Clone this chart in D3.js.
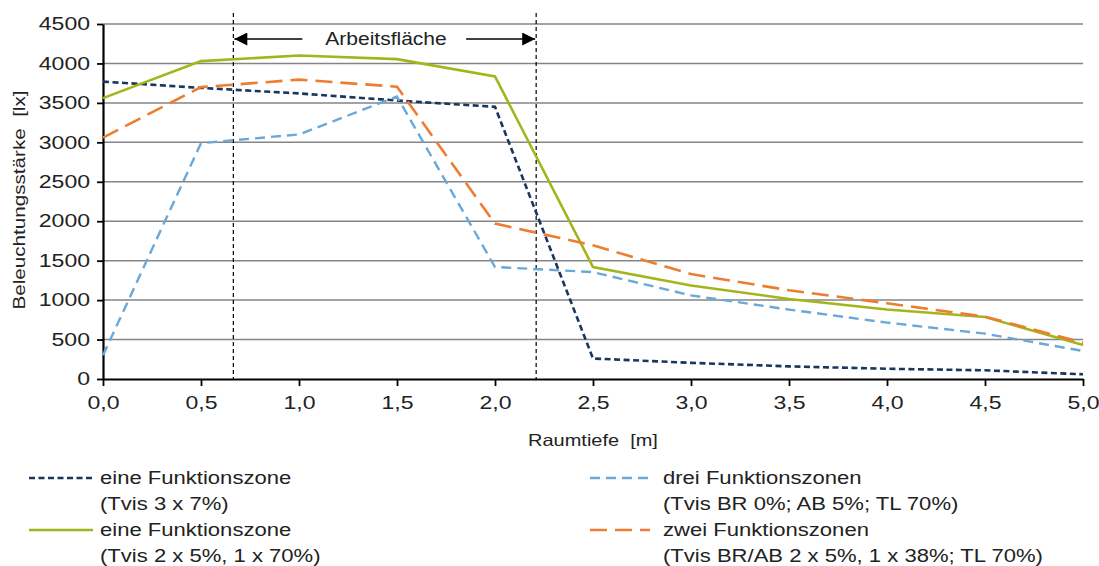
<!DOCTYPE html>
<html><head><meta charset="utf-8">
<script src="https://cdn.jsdelivr.net/npm/d3@7"></script>
<style>body{margin:0;background:#fff;}svg{display:block;font-family:"Liberation Sans",Arial,sans-serif;}</style>
</head><body><svg id="c" width="1099" height="566"></svg>
<script>
const depths = [0.0,0.5,1.0,1.5,2.0,2.5,3.0,3.5,4.0,4.5,5.0];
const eineFunktionszone3x7 = [3770,3690,3620,3530,3450,260,205,160,130,110,60];
const dreiFunktionszonen = [300,2990,3100,3580,1420,1355,1060,880,715,575,355];
const eineFunktionszone2x5 = [3560,4030,4100,4055,3835,1420,1185,1015,880,785,430];
const zweiFunktionszonen = [3060,3700,3795,3705,1970,1695,1330,1125,960,790,460];
const yTicks = [0,500,1000,1500,2000,2500,3000,3500,4000,4500];
const xTicks = [0,0.5,1,1.5,2,2.5,3,3.5,4,4.5,5];
const workArea = [0.665,2.21];
const seriesNames = ["eine Funktionszone","drei Funktionszonen","eine Funktionszone","zwei Funktionszonen"];
const seriesSub = ["(Tvis 3 x 7%)","(Tvis BR 0%; AB 5%; TL 70%)","(Tvis 2 x 5%, 1 x 70%)","(Tvis BR/AB 2 x 5%, 1 x 38%; TL 70%)"];

const svg = d3.select("#c");
const L=103,R=1083,T=24,B=379;
const x = d3.scaleLinear().domain([0,5]).range([L,R]);
const y = d3.scaleLinear().domain([0,4500]).range([B,T]);

function stretch(sel,k){
 sel.each(function(){
  const l=this.getComputedTextLength();
  d3.select(this).attr("textLength",l*k).attr("lengthAdjust","spacingAndGlyphs");
 });
}

const styles = [
 {data:eineFunktionszone3x7,color:"#17375e",dash:"6,3.5",w:2.6},
 {data:dreiFunktionszonen,color:"#6aa8d8",dash:"10,6",w:2.4},
 {data:eineFunktionszone2x5,color:"#a4b51b",dash:null,w:2.6},
 {data:zweiFunktionszonen,color:"#ed7d31",dash:"17,8",w:2.6}
];

// gridlines
svg.append("g").selectAll("line").data(yTicks.filter(d=>d>0)).join("line")
 .attr("x1",L).attr("x2",R).attr("y1",d=>y(d)).attr("y2",d=>y(d))
 .attr("stroke","#858585").attr("stroke-width",1.5);

// y axis
const fmtY = d=>String(d);
const ya = svg.append("g").attr("transform",`translate(${L},0)`)
 .call(d3.axisLeft(y).tickValues(yTicks).tickFormat(fmtY).tickSize(6).tickSizeOuter(0));
ya.select(".domain").attr("stroke","#000").attr("stroke-width",2.2);
ya.selectAll(".tick line").attr("stroke","#000").attr("stroke-width",1.8);
ya.selectAll("text").attr("font-size",18).attr("fill","#222").attr("font-family","Liberation Sans, Arial, sans-serif").attr("dx",-4);
stretch(ya.selectAll("text"),1.28);

// x axis
const fmtX = d=>d.toFixed(1).replace(".",",");
const xa = svg.append("g").attr("transform",`translate(0,${B})`)
 .call(d3.axisBottom(x).tickValues(xTicks).tickFormat(fmtX).tickSize(7).tickSizeOuter(0));
xa.select(".domain").attr("stroke","#000").attr("stroke-width",2.2);
xa.selectAll(".tick line").attr("stroke","#000").attr("stroke-width",1.8);
xa.selectAll("text").attr("font-size",18).attr("fill","#222").attr("font-family","Liberation Sans, Arial, sans-serif").attr("dy","1.1em");
stretch(xa.selectAll("text"),1.28);

// working area vertical lines
svg.append("g").selectAll("line").data(workArea).join("line")
 .attr("x1",d=>x(d)).attr("x2",d=>x(d)).attr("y1",13).attr("y2",B)
 .attr("stroke","#000").attr("stroke-width",1.2).attr("stroke-dasharray","4,3");

// arrows
const ay=39;
const defs=svg.append("defs");
defs.append("marker").attr("id","ah").attr("viewBox","0 0 10 10").attr("refX",10).attr("refY",5)
 .attr("markerWidth",17).attr("markerHeight",13).attr("markerUnits","userSpaceOnUse").attr("orient","auto")
 .append("path").attr("d","M0,0L10,5L0,10z").attr("fill","#000");
svg.append("line").attr("x1",x(workArea[0])+69).attr("x2",x(workArea[0])+1).attr("y1",ay).attr("y2",ay)
 .attr("stroke","#000").attr("stroke-width",1.5).attr("marker-end","url(#ah)");
svg.append("line").attr("x1",x(workArea[1])-70).attr("x2",x(workArea[1])-1).attr("y1",ay).attr("y2",ay)
 .attr("stroke","#000").attr("stroke-width",1.5).attr("marker-end","url(#ah)");
const at = svg.append("text").attr("x",386).attr("y",ay+6).attr("text-anchor","middle")
 .attr("font-size",17.5).attr("fill","#222").text("Arbeitsfläche");
stretch(at,1.2);

// lines
const line = d3.line().x((d,i)=>x(depths[i])).y(d=>y(d));
styles.forEach(s=>{
 svg.append("path").datum(s.data).attr("d",line).attr("fill","none")
  .attr("stroke",s.color).attr("stroke-width",s.w).attr("stroke-dasharray",s.dash);
});

// axis titles
const yt = svg.append("text").attr("transform","translate(25,200) rotate(-90)").attr("text-anchor","middle")
 .attr("font-size",16.5).attr("fill","#222").style("white-space","pre").text("Beleuchtungsstärke  [lx]");
stretch(yt,1.25);
const xt = svg.append("text").attr("x",593).attr("y",446).attr("text-anchor","middle")
 .attr("font-size",16.5).attr("fill","#222").style("white-space","pre").text("Raumtiefe  [m]");
stretch(xt,1.21);

// legend
const legPos = [
 {lx1:29,lx2:93,tx:100,y:478, s:0},
 {lx1:590,lx2:650,tx:663,y:478, s:1},
 {lx1:29,lx2:93,tx:100,y:530, s:2},
 {lx1:590,lx2:650,tx:663,y:530, s:3}
];
legPos.forEach((p,i)=>{
 const s=styles[p.s];
 svg.append("line").attr("x1",p.lx1).attr("x2",p.lx2).attr("y1",p.y).attr("y2",p.y)
  .attr("stroke",s.color).attr("stroke-width",s.w).attr("stroke-dasharray",s.dash);
 const t1=svg.append("text").attr("x",p.tx).attr("y",p.y+6).attr("font-size",17.5).attr("fill","#222").text(seriesNames[p.s]);
 const t2=svg.append("text").attr("x",p.tx).attr("y",p.y+32).attr("font-size",17.5).attr("fill","#222").text(seriesSub[p.s]);
 stretch(t1,1.26); stretch(t2,1.26);
});
</script></body></html>
